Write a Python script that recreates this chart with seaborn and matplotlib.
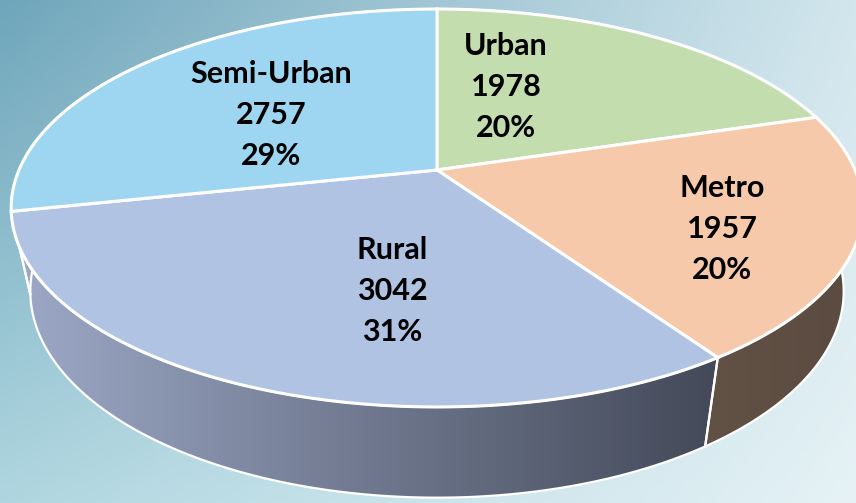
import numpy as np
import seaborn as sns
import matplotlib.pyplot as plt
from matplotlib.path import Path
from matplotlib.patches import Polygon
from matplotlib.transforms import Transform
from matplotlib.colors import LinearSegmentedColormap, to_rgb

# data
categories = ["Urban", "Metro", "Rural", "Semi-Urban"]
counts = [1978, 1957, 3042, 2757]
pct_labels = ["20%", "20%", "31%", "29%"]

# styling
top_colors = ["#C4DDAF", "#F6C9AA", "#B0C3E2", "#9ED6F1"]
side_colors = [("#8FA87A", "#6F8660"), ("#625246", "#5A4A3F"),
               ("#9DA9C7", "#434958"), ("#8CC4DD", "#7FB6D0")]
label_xy = [(506, 87), (722, 229), (392, 291), (271, 115)]

W, H = 856, 503
CX, CY = 437, 170          # projected centre of the disc (pixels)
RX, RY, K = 418, 191.7, 0.191


class Tilt(Transform):
    """Perspective view of the unit disc, output in pixel coordinates."""
    input_dims = output_dims = 2

    def __init__(self, drop=0.0, scale=1.0):
        super().__init__()
        self.drop = drop
        self.scale = scale

    def transform_non_affine(self, values):
        xy = np.asarray(values, dtype=float).reshape(-1, 2)
        w = 1 + K * xy[:, 1]
        s = self.scale
        return np.column_stack([CX + s * RX * xy[:, 0] / w,
                                CY + (self.drop - s * RY * xy[:, 1]) / w])

    def transform_path_non_affine(self, path):
        pts = []
        for seg, code in path.iter_bezier():
            if code == Path.MOVETO:
                pts.append(seg.control_points)
            else:
                pts.append(seg(np.linspace(0, 1, 30)[1:]))
        return Path(self.transform_non_affine(np.vstack(pts)), closed=True)


sns.set_theme(style="white")
plt.rcParams["font.family"] = ["Lato", "DejaVu Sans"]

fig = plt.figure(figsize=(W / 100, H / 100), dpi=100)
ax = fig.add_axes([0, 0, 1, 1])

# background gradient
tl, tr, bl, br = (np.array(to_rgb(c)) for c in ["#6FA6BB", "#D2E6ED", "#AFD6E0", "#E6F2F6"])
yy, xx = np.mgrid[0:1:120j, 0:1:200j]
xx, yy = xx[..., None], yy[..., None]
bg = tl * (1 - xx) * (1 - yy) + tr * xx * (1 - yy) + bl * (1 - xx) * yy + br * xx * yy
ax.imshow(bg, extent=(0, W, H, 0), aspect="auto", zorder=0)

# top face
wedges, _ = ax.pie(counts, colors=top_colors, startangle=90, counterclock=False,
                   wedgeprops=dict(edgecolor="white", linewidth=2.2))
top = Tilt()
for wd in wedges:
    wd.set_transform(top + ax.transData)
    wd.set_zorder(3)

# side walls
bottom = Tilt(drop=82, scale=0.955)
rims = []
for i, wd in enumerate(wedges):
    t = np.radians(np.linspace(wd.theta1, wd.theta2, 200))
    rims.append((np.sin(t).mean(), i, np.column_stack([np.cos(t), np.sin(t)])))
for _, i, rim in sorted(rims, key=lambda r: -r[0]):
    poly = np.vstack([top.transform(rim), bottom.transform(rim[::-1])])
    wall = Polygon(poly, closed=True, facecolor="none", edgecolor="white",
                   linewidth=1.6, zorder=2)
    ax.add_patch(wall)
    cmap = LinearSegmentedColormap.from_list(f"side{i}", side_colors[i])
    im = ax.imshow(np.linspace(0, 1, 256)[None, :], cmap=cmap, aspect="auto",
                   extent=(poly[:, 0].min(), poly[:, 0].max(),
                           poly[:, 1].max(), poly[:, 1].min()), zorder=1.5)
    im.set_clip_path(wall)

# labels
for name, n, p, (x, y) in zip(categories, counts, pct_labels, label_xy):
    for j, line in enumerate([name, str(n), p]):
        ax.text(x, y + (j - 1) * 41, line, ha="center", va="center",
                fontsize=22, fontweight="bold", color="black", zorder=5)

ax.set_aspect("auto")
ax.set_xlim(0, W)
ax.set_ylim(H, 0)
ax.axis("off")

fig.savefig("out.png", dpi=100)
plt.close(fig)
